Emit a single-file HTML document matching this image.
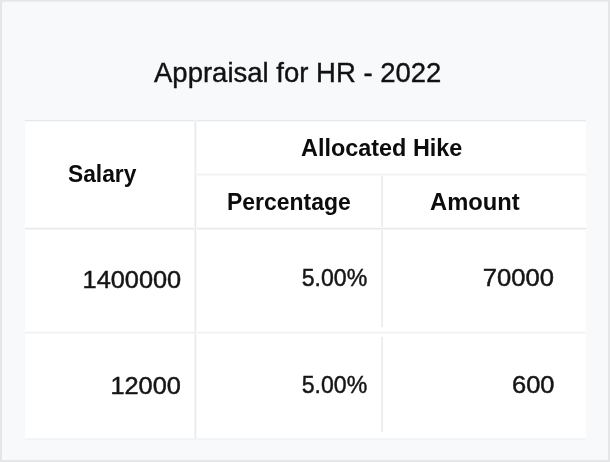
<!DOCTYPE html>
<html><head><meta charset="utf-8">
<style>
html,body{margin:0;padding:0;}
body{width:610px;height:462px;background:#e5e6e8;position:relative;overflow:hidden;font-family:"Liberation Sans",sans-serif;color:#111;}
#inner{position:absolute;left:2px;top:2px;width:606px;height:458px;background:#f8f9fb;}
#tbl{position:absolute;left:25px;top:121px;width:560.5px;height:317px;background:#fff;}
.p{position:absolute;}
.t{position:absolute;white-space:nowrap;line-height:1;}
#txt{position:absolute;left:0;top:0;width:610px;height:462px;will-change:transform;}
.l{transform-origin:0 50%;}
.r{transform-origin:100% 50%;}
.b{font-weight:bold;font-size:23.3px;color:#0c0c0c;}
.n{font-size:23.7px;color:#151515;-webkit-text-stroke:0.45px #151515;}
</style></head><body>
<div id="inner"></div>
<div class="p" style="left:2px;top:1px;width:606px;height:1px;background:#eaebed"></div>
<div id="tbl"></div>
<!-- horizontal lines -->
<div class="p" style="left:25px;top:120px;width:560.5px;height:1px;background:#e8e8e9"></div>
<div class="p" style="left:25px;top:121px;width:560.5px;height:1px;background:#f7f7f7"></div>
<div class="p" style="left:196px;top:173px;width:389.5px;height:1px;background:#fbfbfb"></div>
<div class="p" style="left:196px;top:174px;width:389.5px;height:1px;background:#f1f1f1"></div>
<div class="p" style="left:196px;top:175px;width:389.5px;height:1px;background:#f9f9f9"></div>
<div class="p" style="left:25px;top:227px;width:560.5px;height:1px;background:#fbfbfb"></div>
<div class="p" style="left:25px;top:228px;width:560.5px;height:1px;background:#e8e8e8"></div>
<div class="p" style="left:25px;top:229px;width:560.5px;height:1px;background:#f4f4f4"></div>
<div class="p" style="left:25px;top:331px;width:560.5px;height:1px;background:#fbfbfb"></div>
<div class="p" style="left:25px;top:332px;width:560.5px;height:1px;background:#f1f1f1"></div>
<div class="p" style="left:25px;top:333px;width:560.5px;height:1px;background:#f8f8f8"></div>
<div class="p" style="left:25px;top:438px;width:560.5px;height:1px;background:#f5f6f8"></div>
<div class="p" style="left:25px;top:439px;width:560.5px;height:1px;background:#f2f3f5"></div>
<!-- vertical line 195 -->
<div class="p" style="left:194px;top:120px;width:1px;height:319px;background:#f5f5f5"></div>
<div class="p" style="left:195px;top:120px;width:1px;height:319px;background:#eaeaea"></div>
<div class="p" style="left:196px;top:120px;width:1px;height:319px;background:#f9f9f9"></div>
<!-- vertical line 382 (segments) -->
<div class="p" style="left:381px;top:176px;width:1px;height:51px;background:#f1f1f1"></div>
<div class="p" style="left:382px;top:176px;width:1px;height:51px;background:#ececec"></div>
<div class="p" style="left:381px;top:230px;width:1px;height:97px;background:#f1f1f1"></div>
<div class="p" style="left:382px;top:230px;width:1px;height:97px;background:#ececec"></div>
<div class="p" style="left:381px;top:337px;width:1px;height:95px;background:#f1f1f1"></div>
<div class="p" style="left:382px;top:337px;width:1px;height:95px;background:#ececec"></div>
<!-- text -->
<div id="txt">
<div class="t l" id="title" style="left:154px;top:58px;font-size:28.3px;-webkit-text-stroke:0.4px #151515;transform:scaleX(0.972)">Appraisal for HR - 2022</div>
<div class="t b l" id="salary" style="left:67.5px;top:163px;transform:scaleX(0.978)">Salary</div>
<div class="t b l" id="alloc" style="left:301px;top:137px;transform:scaleX(1.005)">Allocated Hike</div>
<div class="t b l" id="pct" style="left:227.3px;top:191px;transform:scaleX(0.985)">Percentage</div>
<div class="t b l" id="amt" style="left:430px;top:191px;transform:scaleX(1.02)">Amount</div>
<div class="t n r" id="r1a" style="right:429.2px;top:269px;transform:scaleX(1.07)">1400000</div>
<div class="t n r" id="r1b" style="right:243px;top:267px;transform:scaleX(0.975)">5.00%</div>
<div class="t n r" id="r1c" style="right:56.2px;top:267px;transform:scaleX(1.08)">70000</div>
<div class="t n r" id="r2a" style="right:429.2px;top:375px;transform:scaleX(1.07)">12000</div>
<div class="t n r" id="r2b" style="right:243px;top:374px;transform:scaleX(0.975)">5.00%</div>
<div class="t n r" id="r2c" style="right:55.8px;top:374px;transform:scaleX(1.075)">600</div>
</div>
</body></html>
